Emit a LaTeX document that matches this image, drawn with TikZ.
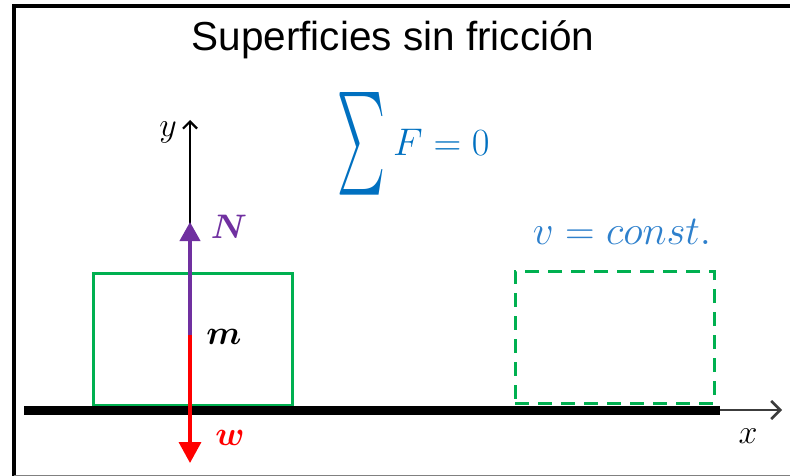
\documentclass[tikz,border=0pt]{standalone}
\usepackage{fix-cm}
\usepackage{amsmath}
\usepackage{bm}
\usepackage{graphicx}
\usepackage{fontspec}
\newfontfamily\titlefont{Liberation Sans}
\usetikzlibrary{arrows.meta,positioning}
\definecolor{green}{RGB}{0,176,80}
\definecolor{purple}{RGB}{112,48,160}
\definecolor{red}{RGB}{255,0,0}
\definecolor{blue}{RGB}{0,112,192}
\definecolor{lightblue}{RGB}{46,128,204}
\definecolor{axisgray}{RGB}{60,60,60}

\begin{document}
\begin{tikzpicture}[x=1pt, y=-1pt,
  block/.style={draw=green, line width=3pt, minimum width=199pt, minimum height=132pt, inner sep=0pt},
  force/.style={line width=4pt, -{Triangle[length=19pt,width=20pt]}},
  lbl/.style={inner sep=0pt, font=\fontsize{34}{36}\selectfont}]
\useasboundingbox (0,0) rectangle (790,476);
% frame
\draw[line width=4pt] (14,476) -- (14,6) -- (790,6);
\draw[gray, line width=1pt] (14,475) -- (790,475);
% title
\node[inner sep=0pt, anchor=base, font=\titlefont\fontsize{40.5}{43}\selectfont] (title) at (393,51) {Superficies sin fricción};
% ground and axes
\coordinate (gL) at (24,410);
\coordinate (gR) at (720,410);
\coordinate (xtip) at (782,410);
\coordinate (cm) at (190,337);
\coordinate (ytip) at (190,120);
\coordinate (Ntip) at (190,222);
\coordinate (wtip) at (190,463);
\node[block] (box) at (192.5,339) {};
\node[block, dashed, dash pattern=on 14pt off 9pt] (ghost) at (614.5,337) {};
\draw[line width=9pt] (gL) -- (gR);
\draw[axisgray, line width=2.2pt, -{Straight Barb[length=9pt,width=18pt,line width=2.5pt]}] (gR) -- (xtip);
\draw[line width=2pt, -{Straight Barb[length=7pt,width=14pt,line width=2.2pt]}] (cm) -- (ytip);
\draw[force, purple] ([yshift=-1pt]cm) -- (Ntip);
\draw[force, red, line width=3.5pt, -{Triangle[length=21pt,width=22pt]}] ([yshift=2pt]cm) -- (wtip);
% labels
\node[lbl] (ylab) at (168,132) {$y$};
\node[lbl] (xlab) at (748,436) {$x$};
\node[lbl, purple] (Nlab) at (229,227) {$\bm{N}$};
\node[lbl] (mlab) at (224,337) {$\bm{m}$};
\node[lbl, red] (wlab) at (230,438) {$\bm{w}$};
\node[inner sep=0pt, blue] (sigma) at (361,144) {\resizebox{48pt}{77pt}{$\sum$}};
\node[inner sep=0pt, blue, anchor=base west, font=\fontsize{38.5}{40}\selectfont] (sumF) at (393,156) {$F=0$};
\node[inner sep=0pt, lightblue, font=\fontsize{41}{44}\selectfont] (vconst) at (622,232) {$v=const.$};
\end{tikzpicture}
\end{document}
